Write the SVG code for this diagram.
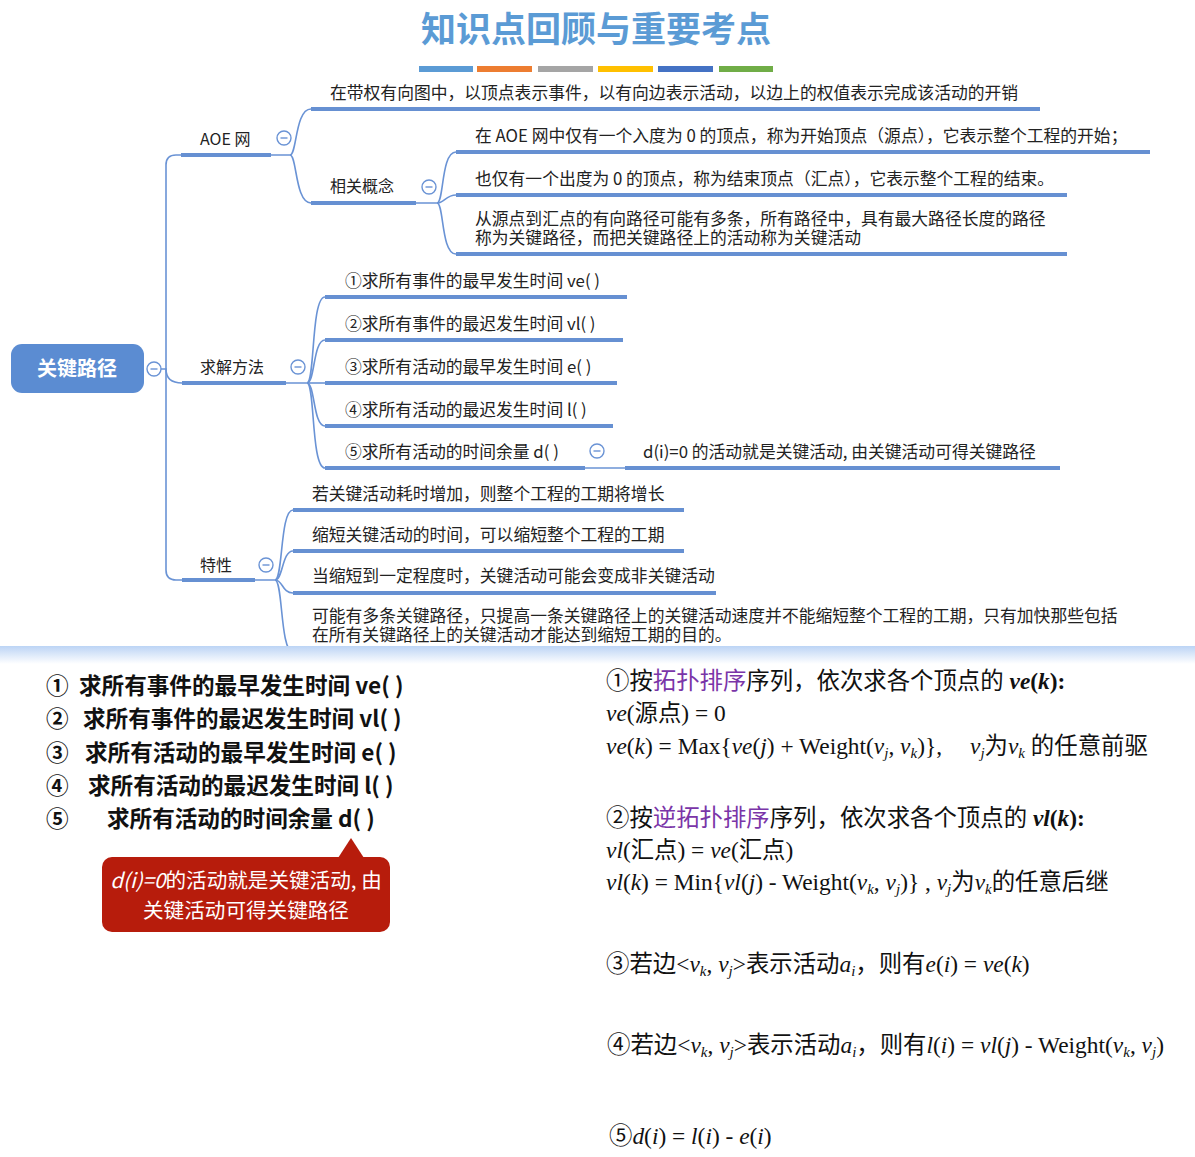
<svg xmlns="http://www.w3.org/2000/svg" width="1195" height="1157" viewBox="0 0 1195 1157">
<defs>
<style>
.t{font-family:"Noto Sans CJK SC","Noto Sans",sans-serif;font-size:16.8px;fill:#222}
.lbl{font-family:"Noto Sans CJK SC","Noto Sans",sans-serif;font-size:16px;fill:#222}
.ul{stroke:#6690D2;stroke-width:4;fill:none}
.cn{stroke:#6A93D5;stroke-width:1.6;fill:none}
.cb circle{fill:#fff;stroke:#6A93D5;stroke-width:1.4}
.cb line{stroke:#6A93D5;stroke-width:1.4}
.bl{font-family:"Noto Sans CJK SC","Noto Sans",sans-serif;font-size:22.6px;font-weight:bold;fill:#111}
.f{font-family:"Liberation Serif","Noto Sans CJK SC",serif;font-size:23.4px;fill:#111}
.p{fill:#7A35A8}
.i{font-style:italic}
.s{font-size:15px;font-style:italic}
</style>
<linearGradient id="band" x1="0" y1="0" x2="0" y2="1">
<stop offset="0" stop-color="#BCD4F5"/>
<stop offset="1" stop-color="#FFFFFF"/>
</linearGradient>
<g id="minus" class="cb"><circle cx="0" cy="0" r="7"/><line x1="-3.5" y1="0" x2="3.5" y2="0"/></g>
</defs>
<rect width="1195" height="1157" fill="#fff"/>

<g id="title">
<text x="596" y="42" text-anchor="middle" font-family="'Noto Sans CJK SC',sans-serif" font-size="35" font-weight="bold" fill="#5B9BD5">知识点回顾与重要考点</text>
<rect x="419" y="66" width="54" height="6" fill="#5B9BD5"/>
<rect x="477" y="66" width="55" height="6" fill="#ED7D31"/>
<rect x="538" y="66" width="55" height="6" fill="#A5A5A5"/>
<rect x="598" y="66" width="55" height="6" fill="#FFC000"/>
<rect x="658" y="66" width="55" height="6" fill="#4472C4"/>
<rect x="719" y="66" width="54" height="6" fill="#70AD47"/>
</g>

<g id="connectors">
<path class="cn" d="M181,155 H176 Q166,155 166,165 V570 Q166,580 176,580 H182"/>
<path class="cn" d="M160,369 H166 Q166,383 182,383"/>
<path class="cn" d="M271,155 H290 C297,155 295,109 311,109"/>
<path class="cn" d="M290,155 C297,155 295,203 311,203"/>
<path class="cn" d="M416,203 H437 C444,203 441,152 456,152"/>
<path class="cn" d="M437,203 C444,203 446,195 456,195"/>
<path class="cn" d="M437,203 C444,203 441,254 456,254"/>
<path class="cn" d="M286,383 H307 C315,383 311,297 325,297"/>
<path class="cn" d="M307,383 C315,383 313,340 325,340"/>
<path class="cn" d="M307,383 H325"/>
<path class="cn" d="M307,383 C315,383 313,426 325,426"/>
<path class="cn" d="M307,383 C315,383 311,468 325,468"/>
<path class="cn" d="M585,468 H625"/>
<path class="cn" d="M255,580 H275 C283,580 280,510 293,510"/>
<path class="cn" d="M275,580 C283,580 282,551 293,551"/>
<path class="cn" d="M275,580 C283,580 282,593 293,593"/>
<path class="cn" d="M275,580 C283,580 280,652 293,652"/>
</g>

<g id="root">
<rect x="11" y="344" width="133" height="49" rx="11" fill="#5B8CD2"/>
<text x="77" y="376" text-anchor="middle" font-family="'Noto Sans CJK SC',sans-serif" font-size="20" font-weight="bold" fill="#fff">关键路径</text>
<use href="#minus" x="154" y="369"/>
</g>

<g id="aoe">
<text class="lbl" x="200" y="145">AOE 网</text>
<line class="ul" x1="181" y1="155" x2="271" y2="155"/>
<use href="#minus" x="284" y="138"/>
</g>
<g id="aoe-def">
<text class="t" x="330" y="99">在带权有向图中，以顶点表示事件，以有向边表示活动，以边上的权值表示完成该活动的开销</text>
<line class="ul" x1="311" y1="109" x2="1040" y2="109"/>
</g>
<g id="concept">
<text class="lbl" x="330" y="192">相关概念</text>
<line class="ul" x1="311" y1="203" x2="416" y2="203"/>
<use href="#minus" x="429" y="187"/>
</g>
<g id="concept-1">
<text class="t" x="475" y="142">在 AOE 网中仅有一个入度为 0 的顶点，称为开始顶点（源点），它表示整个工程的开始；</text>
<line class="ul" x1="456" y1="152" x2="1150" y2="152"/>
</g>
<g id="concept-2">
<text class="t" x="475" y="185">也仅有一个出度为 0 的顶点，称为结束顶点（汇点），它表示整个工程的结束。</text>
<line class="ul" x1="456" y1="195" x2="1067" y2="195"/>
</g>
<g id="concept-3">
<text class="t" x="475" y="225">从源点到汇点的有向路径可能有多条，所有路径中，具有最大路径长度的路径<tspan x="475" dy="19">称为关键路径，而把关键路径上的活动称为关键活动</tspan></text>
<line class="ul" x1="456" y1="254" x2="1067" y2="254"/>
</g>

<g id="method">
<text class="lbl" x="200" y="373">求解方法</text>
<line class="ul" x1="182" y1="383" x2="286" y2="383"/>
<use href="#minus" x="298" y="367"/>
</g>
<g id="method-1">
<text class="t" x="345" y="287">①求所有事件的最早发生时间 ve( )</text>
<line class="ul" x1="325" y1="297" x2="627" y2="297"/>
</g>
<g id="method-2">
<text class="t" x="345" y="330">②求所有事件的最迟发生时间 vl( )</text>
<line class="ul" x1="325" y1="340" x2="623" y2="340"/>
</g>
<g id="method-3">
<text class="t" x="345" y="373">③求所有活动的最早发生时间 e( )</text>
<line class="ul" x1="325" y1="383" x2="617" y2="383"/>
</g>
<g id="method-4">
<text class="t" x="345" y="416">④求所有活动的最迟发生时间 l( )</text>
<line class="ul" x1="325" y1="426" x2="613" y2="426"/>
</g>
<g id="method-5">
<text class="t" x="345" y="458">⑤求所有活动的时间余量 d( )</text>
<line class="ul" x1="325" y1="468" x2="585" y2="468"/>
<use href="#minus" x="597" y="451"/>
</g>
<g id="method-5-note">
<text class="t" x="643" y="458">d(i)=0 的活动就是关键活动, 由关键活动可得关键路径</text>
<line class="ul" x1="625" y1="468" x2="1060" y2="468"/>
</g>

<g id="property">
<text class="lbl" x="200" y="571">特性</text>
<line class="ul" x1="182" y1="580" x2="255" y2="580"/>
<use href="#minus" x="266" y="565"/>
</g>
<g id="property-1">
<text class="t" x="312" y="500">若关键活动耗时增加，则整个工程的工期将增长</text>
<line class="ul" x1="293" y1="510" x2="684" y2="510"/>
</g>
<g id="property-2">
<text class="t" x="312" y="541">缩短关键活动的时间，可以缩短整个工程的工期</text>
<line class="ul" x1="293" y1="551" x2="684" y2="551"/>
</g>
<g id="property-3">
<text class="t" x="312" y="582">当缩短到一定程度时，关键活动可能会变成非关键活动</text>
<line class="ul" x1="293" y1="593" x2="716" y2="593"/>
</g>
<g id="property-4">
<text class="t" x="312" y="622">可能有多条关键路径，只提高一条关键路径上的关键活动速度并不能缩短整个工程的工期，只有加快那些包括<tspan x="312" dy="19">在所有关键路径上的关键活动才能达到缩短工期的目的。</tspan></text>
</g>

<rect x="0" y="646" width="1195" height="511" fill="#fff"/>
<rect x="0" y="646" width="1195" height="18" fill="url(#band)"/>

<g id="list">
<text class="bl" x="46" y="694" font-size="23.5">①</text><text class="bl" x="79" y="694">求所有事件的最早发生时间 ve( )</text>
<text class="bl" x="46" y="727" font-size="23.5">②</text><text class="bl" x="83" y="727">求所有事件的最迟发生时间 vl( )</text>
<text class="bl" x="46" y="761" font-size="23.5">③</text><text class="bl" x="85" y="761">求所有活动的最早发生时间 e( )</text>
<text class="bl" x="46" y="794" font-size="23.5">④</text><text class="bl" x="88" y="794">求所有活动的最迟发生时间 l( )</text>
<text class="bl" x="46" y="827" font-size="23.5">⑤</text><text class="bl" x="107" y="827">求所有活动的时间余量 d( )</text>
</g>

<g id="callout">
<polygon points="338,858 351,838 364,858" fill="#B71C0C"/>
<rect x="102" y="857" width="288" height="75" rx="10" fill="#B71C0C"/>
<text x="246" y="888" text-anchor="middle" font-family="'Noto Sans CJK SC',sans-serif" font-size="20.6" fill="#fff"><tspan font-style="italic">d(i)=0</tspan>的活动就是关键活动, 由</text>
<text x="246" y="918" text-anchor="middle" font-family="'Noto Sans CJK SC',sans-serif" font-size="20.6" fill="#fff">关键活动可得关键路径</text>
</g>

<g id="formulas">
<text class="f" x="606" y="689">①按<tspan class="p">拓扑排序</tspan>序列，依次求各个顶点的 <tspan font-weight="bold" font-style="italic">ve</tspan><tspan font-weight="bold">(</tspan><tspan font-weight="bold" font-style="italic">k</tspan><tspan font-weight="bold">):</tspan></text>
<text class="f" x="606" y="721"><tspan class="i">ve</tspan>(源点) = 0</text>
<text class="f" x="606" y="754"><tspan class="i">ve</tspan>(<tspan class="i">k</tspan>) = Max{<tspan class="i">ve</tspan>(<tspan class="i">j</tspan>) + Weight(<tspan class="i">v</tspan><tspan class="s" dy="4">j</tspan><tspan dy="-4">, </tspan><tspan class="i">v</tspan><tspan class="s" dy="4">k</tspan><tspan dy="-4">)},</tspan></text>
<text class="f" x="970" y="754"><tspan class="i">v</tspan><tspan class="s" dy="4">j</tspan><tspan dy="-4">为</tspan><tspan class="i">v</tspan><tspan class="s" dy="4">k</tspan><tspan dy="-4"> 的任意前驱</tspan></text>

<text class="f" x="606" y="826">②按<tspan class="p">逆拓扑排序</tspan>序列，依次求各个顶点的 <tspan font-weight="bold" font-style="italic">vl</tspan><tspan font-weight="bold">(</tspan><tspan font-weight="bold" font-style="italic">k</tspan><tspan font-weight="bold">):</tspan></text>
<text class="f" x="606" y="858"><tspan class="i">vl</tspan>(汇点) = <tspan class="i">ve</tspan>(汇点)</text>
<text class="f" x="606" y="890"><tspan class="i">vl</tspan>(<tspan class="i">k</tspan>) = Min{<tspan class="i">vl</tspan>(<tspan class="i">j</tspan>) - Weight(<tspan class="i">v</tspan><tspan class="s" dy="4">k</tspan><tspan dy="-4">, </tspan><tspan class="i">v</tspan><tspan class="s" dy="4">j</tspan><tspan dy="-4">)} , </tspan><tspan class="i">v</tspan><tspan class="s" dy="4">j</tspan><tspan dy="-4">为</tspan><tspan class="i">v</tspan><tspan class="s" dy="4">k</tspan><tspan dy="-4">的任意后继</tspan></text>

<text class="f" x="606" y="972">③若边&lt;<tspan class="i">v</tspan><tspan class="s" dy="4">k</tspan><tspan dy="-4">, </tspan><tspan class="i">v</tspan><tspan class="s" dy="4">j</tspan><tspan dy="-4">&gt;表示活动</tspan><tspan class="i">a</tspan><tspan class="s" dy="4">i</tspan><tspan dy="-4">，则有</tspan><tspan class="i">e</tspan>(<tspan class="i">i</tspan>) = <tspan class="i">ve</tspan>(<tspan class="i">k</tspan>)</text>
<text class="f" x="607" y="1053">④若边&lt;<tspan class="i">v</tspan><tspan class="s" dy="4">k</tspan><tspan dy="-4">, </tspan><tspan class="i">v</tspan><tspan class="s" dy="4">j</tspan><tspan dy="-4">&gt;表示活动</tspan><tspan class="i">a</tspan><tspan class="s" dy="4">i</tspan><tspan dy="-4">，则有</tspan><tspan class="i">l</tspan>(<tspan class="i">i</tspan>) = <tspan class="i">vl</tspan>(<tspan class="i">j</tspan>) - Weight(<tspan class="i">v</tspan><tspan class="s" dy="4">k</tspan><tspan dy="-4">, </tspan><tspan class="i">v</tspan><tspan class="s" dy="4">j</tspan><tspan dy="-4">)</tspan></text>
<text class="f" x="609" y="1144">⑤<tspan class="i">d</tspan>(<tspan class="i">i</tspan>) = <tspan class="i">l</tspan>(<tspan class="i">i</tspan>) - <tspan class="i">e</tspan>(<tspan class="i">i</tspan>)</text>
</g>
</svg>
